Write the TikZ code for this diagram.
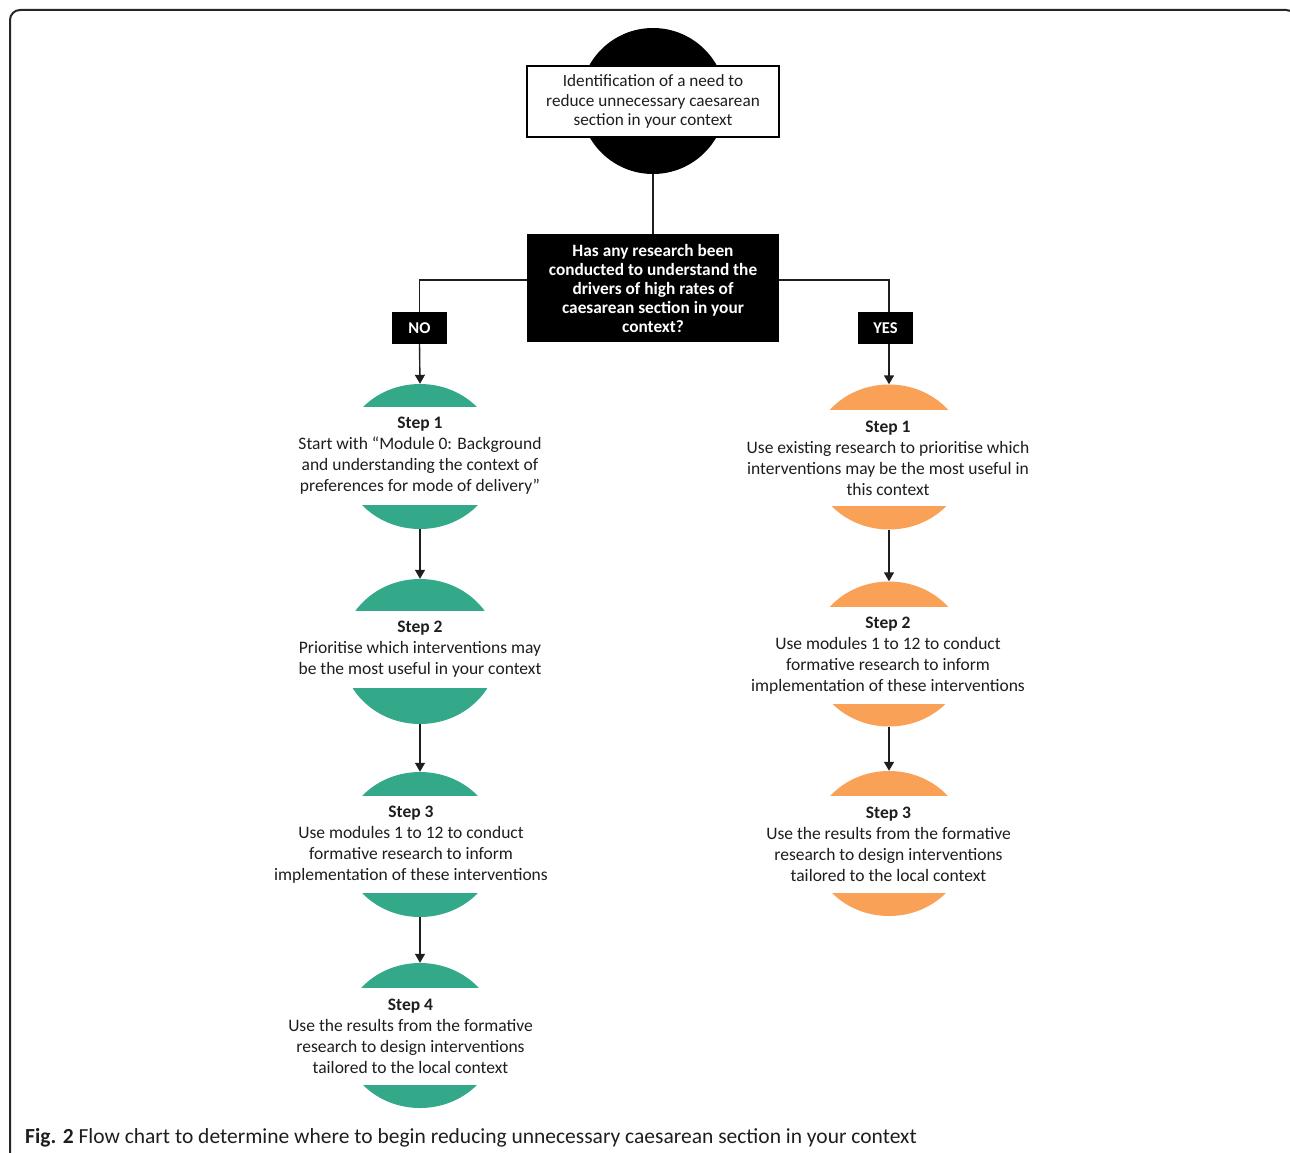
\documentclass[tikz,border=0pt]{standalone}
\usepackage{fontspec}
\setmainfont{Carlito}
\usetikzlibrary{arrows.meta,shapes.geometric}
\definecolor{stepgreen}{RGB}{51,169,138}
\definecolor{steporange}{RGB}{250,161,88}
\definecolor{txt}{RGB}{30,30,30}
\begin{document}
\begin{tikzpicture}[x=1pt,y=-1pt,
  conn/.style={line width=1.4pt,draw=txt},
  arr/.style={conn,-{Triangle[width=10pt,length=9pt]}},
  stepshape/.style={ellipse,minimum width=156pt,minimum height=145pt,inner sep=0pt,draw=none},
  gshape/.style={stepshape,fill=stepgreen},
  oshape/.style={stepshape,fill=steporange},
  band/.style={fill=white,inner sep=0pt,minimum width=190pt,align=center,text=txt,
    font=\fontsize{17.5}{21}\selectfont},
  blackbox/.style={fill=black,text=white,inner sep=0pt,align=center,font=\bfseries\fontsize{17.3}{19}\selectfont},
]
\useasboundingbox (0,0) rectangle (1290,1153);
% frame
\draw[line width=2pt,draw=black!85,rounded corners=10pt] (10,1170) -- (10,10) -- (1296,10) -- (1296,40);

% top
\node[circle,fill=black,minimum size=146pt,inner sep=0pt] (c0) at (653,101) {};
\node[fill=white,draw=black,line width=1.6pt,minimum width=252pt,minimum height=71pt,inner sep=0pt,
  align=center,text=txt,font=\fontsize{17.2}{19.5}\selectfont] (t0) at (653,101.5)
  {Identification of a need to\\reduce unnecessary caesarean\\section in your context};
\node[blackbox,minimum width=252pt,minimum height=108pt] (q) at (653,288)
  {Has any research been\\conducted to understand the\\drivers of high rates of\\caesarean section in your\\context?};
\draw[conn] (c0.south) -- (q.north);

\node[blackbox,minimum width=55pt,minimum height=32pt,font=\bfseries\fontsize{16.5}{19}\selectfont] (no) at (419.5,328) {NO};
\node[blackbox,minimum width=55pt,minimum height=32pt,font=\bfseries\fontsize{16.5}{19}\selectfont] (yes) at (885.5,328) {YES};

% left steps
\node[gshape] (l1) at (420,456.5) {};
\node[band,minimum height=98pt] (l1t) at (420,456) {\textbf{Step 1}\\Start with “Module 0: Background\\and understanding the context of\\preferences for mode of delivery”};
\node[gshape] (l2) at (420,651.5) {};
\node[band,minimum height=77pt] (l2t) at (420,649.5) {\textbf{Step 2}\\Prioritise which interventions may\\be the most useful in your context};
\node[gshape] (l3) at (420,844.5) {};
\node[band,minimum height=97pt] (l3t) at (411,844.5) {\textbf{Step 3}\\Use modules 1 to 12 to conduct\\formative research to inform\\implementation of these interventions};
\node[gshape] (l4) at (420,1035.5) {};
\node[band,minimum height=97pt] (l4t) at (410.5,1036.5) {\textbf{Step 4}\\Use the results from the formative\\research to design interventions\\tailored to the local context};

% right steps
\node[oshape] (r1) at (889,457) {};
\node[band,minimum height=96pt] (r1t) at (888,458) {\textbf{Step 1}\\Use existing research to prioritise which\\interventions may be the most useful in\\this context};
\node[oshape] (r2) at (889,654) {};
\node[band,minimum height=97pt] (r2t) at (888,655.5) {\textbf{Step 2}\\Use modules 1 to 12 to conduct\\formative research to inform\\implementation of these interventions};
\node[oshape] (r3) at (889,843.5) {};
\node[band,minimum height=97pt] (r3t) at (888.5,844.5) {\textbf{Step 3}\\Use the results from the formative\\research to design interventions\\tailored to the local context};

% connectors
\draw[conn] ([yshift=8pt]q.west) -| (no.north);
\draw[conn] ([yshift=8pt]q.east) -| (r1.north |- yes.north);
\draw[arr] (no.south) -- (l1.north);
\draw[arr] (r1.north |- yes.south) -- (r1.north);
\draw[arr] (l1.south) -- (l2.north);
\draw[arr] (l2.south) -- (l3.north);
\draw[arr] (l3.south) -- (l4.north);
\draw[arr] (r1.south) -- (r2.north);
\draw[arr] (r2.south) -- (r3.north);

% caption
\node[anchor=base west,inner sep=0pt,text=txt,font=\fontsize{21.5}{24}\selectfont] (cap) at (25,1143)
  {\textbf{Fig. 2} Flow chart to determine where to begin reducing unnecessary caesarean section in your context};
\end{tikzpicture}
\end{document}
